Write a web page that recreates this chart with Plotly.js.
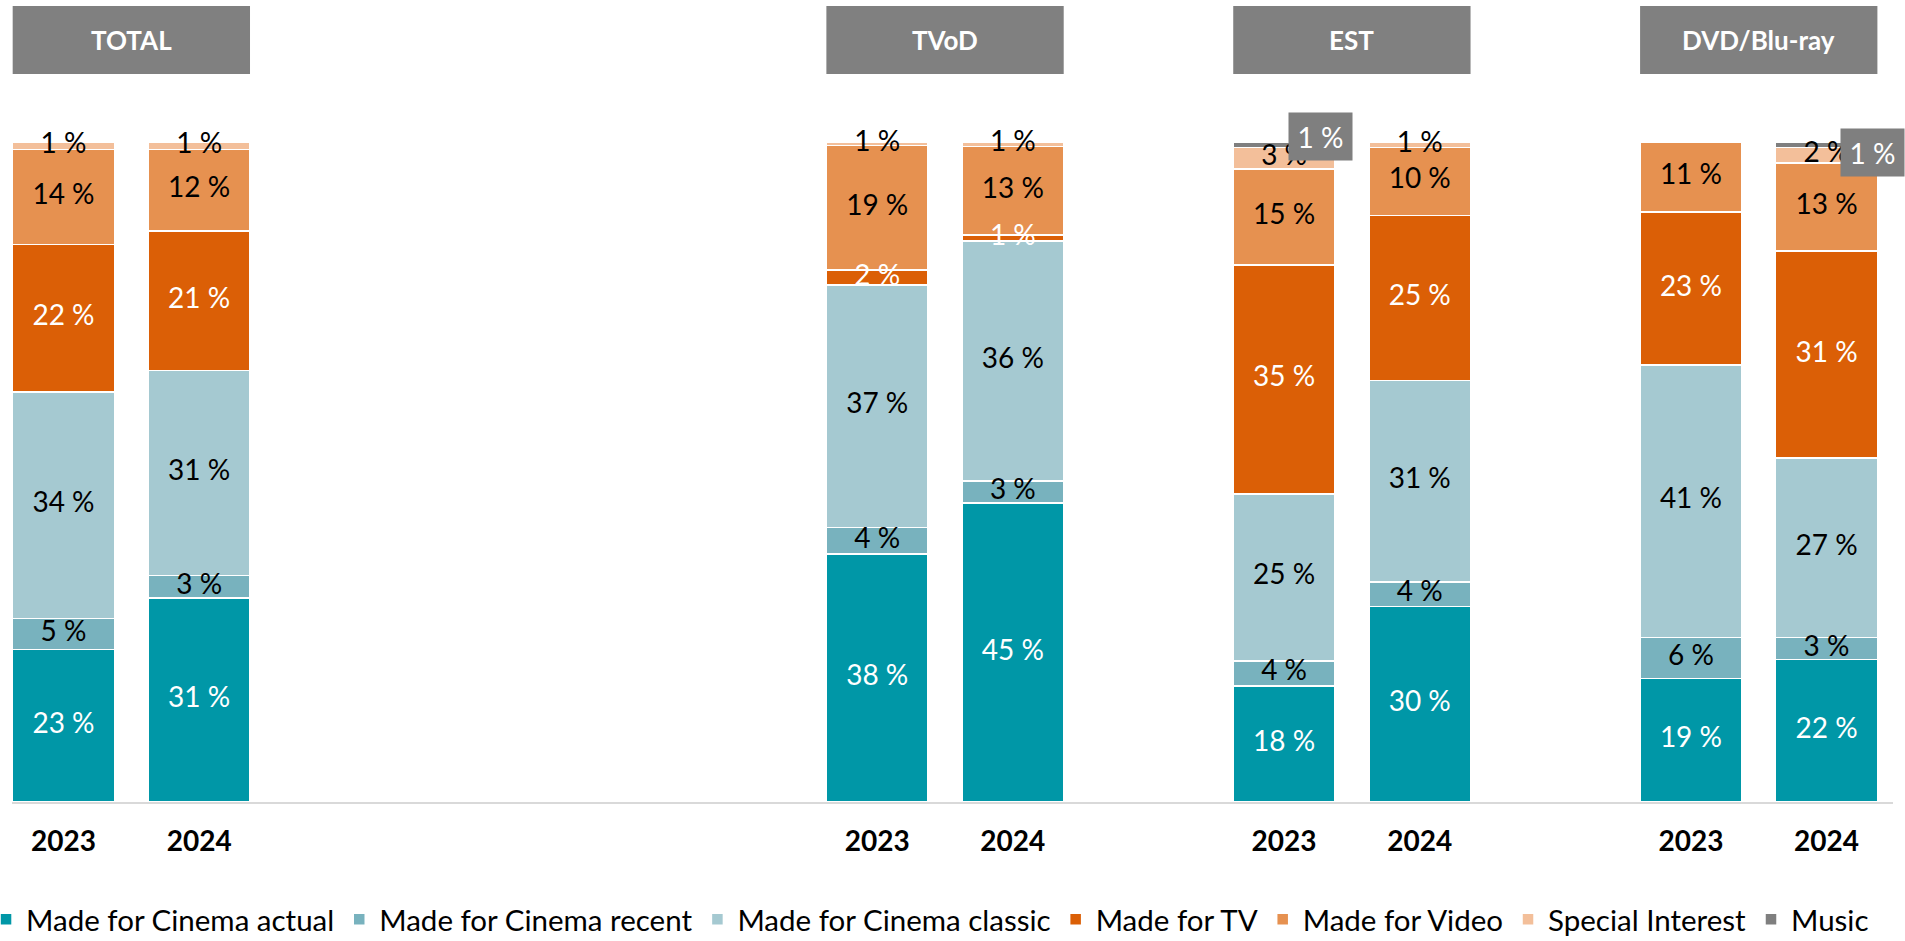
<!DOCTYPE html>
<html>
<head>
<meta charset="utf-8">
<script src="https://cdn.plot.ly/plotly-3.0.1.min.js"></script>
<style>html,body{margin:0;padding:0;background:#fff;}#chart{width:1905px;height:941px;}</style>
</head>
<body>
<div id="chart"></div>
<script>
// ---- data ----
const groups = ['TOTAL', 'TVoD', 'EST', 'DVD/Blu-ray'];
const years = ['2023', '2024'];
const seriesNames = ['Made for Cinema actual', 'Made for Cinema recent', 'Made for Cinema classic', 'Made for TV', 'Made for Video', 'Special Interest', 'Music'];
// order: TOTAL 2023, TOTAL 2024, TVoD 2023, TVoD 2024, EST 2023, EST 2024, DVD 2023, DVD 2024
const cinemaActual  = [23.1, 30.9, 37.6, 45.3, 17.6, 29.6, 18.7, 21.6];
const cinemaRecent  = [4.7, 3.4, 4.0, 3.3, 3.8, 3.7, 6.2, 3.3];
const cinemaClassic = [34.3, 31.1, 36.7, 36.4, 25.3, 30.6, 41.3, 27.2];
const madeForTV     = [22.4, 21.1, 2.3, 0.9, 34.7, 25.0, 23.2, 31.4];
const madeForVideo  = [14.4, 12.4, 18.9, 13.4, 14.5, 10.3, 10.6, 13.3];
const specialInt    = [1.1, 1.1, 0.5, 0.7, 3.3, 0.8, 0, 2.4];
const music         = [0, 0, 0, 0, 0.8, 0, 0, 0.8];

// ---- styling ----
const colors = ['#0097A7', '#78B2BE', '#A5C9D1', '#DB5F06', '#E69150', '#F3BF9A', '#7F7F7F'];
const textColors = ['#ffffff', '#000000', '#000000', '#ffffff', '#000000', '#000000', '#ffffff'];
const FONT = 'Lato, "Open Sans", sans-serif';

const cats = [];
groups.forEach(g => years.forEach(y => cats.push(g + ' ' + y)));
// category order with empty spacer slots between groups
const catOrder = [cats[0], cats[1], ' ', '  ', '   ', '    ', cats[2], cats[3], '     ', cats[4], cats[5], '      ', cats[6], cats[7]];

const allSeries = [cinemaActual, cinemaRecent, cinemaClassic, madeForTV, madeForVideo, specialInt, music];
const fmt = v => v > 0 ? Math.round(v) + ' %' : '';

const traces = allSeries.map((vals, i) => ({
  type: 'bar',
  name: seriesNames[i],
  x: cats,
  y: vals,
  marker: {color: colors[i], line: {color: '#ffffff', width: 1.5}},
  hoverinfo: 'skip'
}));

// value labels: centred in each stacked segment (computed from the data)
const base = cats.map(() => 0);
allSeries.forEach((vals, i) => {
  const mids = vals.map((v, k) => base[k] + v / 2);
  vals.forEach((v, k) => { base[k] += v; });
  if (i === 6) return; // music labels are drawn as boxed callouts below
  traces.push({
    type: 'scatter', mode: 'text', x: cats, y: mids,
    text: vals.map(fmt), textposition: 'middle center',
    textfont: {family: FONT, size: 28, color: textColors[i]},
    showlegend: false, hoverinfo: 'skip', cliponaxis: false
  });
});

// group header boxes
const shapes = [];
const annotations = [];
groups.forEach((g, gi) => {
  const i0 = catOrder.indexOf(cats[gi * 2]);
  const i1 = catOrder.indexOf(cats[gi * 2 + 1]);
  shapes.push({type: 'rect', xref: 'x', yref: 'paper', x0: i0 - 0.375, x1: i1 + 0.375, y0: 1.103, y1: 1.206,
    fillcolor: '#808080', line: {width: 0}, layer: 'above'});
  annotations.push({xref: 'x', yref: 'paper', x: (i0 + i1) / 2, y: 1.1545, text: '<b>' + g + '</b>',
    showarrow: false, font: {family: FONT, size: 26, color: '#ffffff'}, xanchor: 'center', yanchor: 'middle'});
});

// Music labels in gray boxes
music.forEach((v, i) => {
  if (v > 0) {
    annotations.push({xref: 'x', yref: 'y', x: catOrder.indexOf(cats[i]), y: base[i], text: fmt(v),
      showarrow: false, xshift: i === 7 ? 46 : 36, yshift: i === 7 ? -10 : 6,
      width: 47, height: 31, align: 'center', valign: 'middle',
      bgcolor: '#7F7F7F', borderpad: 8, font: {family: FONT, size: 28, color: '#ffffff'},
      xanchor: 'center', yanchor: 'middle'});
  }
});

const layout = {
  width: 1905, height: 941,
  margin: {l: 12, r: 12, t: 142, b: 139, autoexpand: false},
  paper_bgcolor: '#ffffff', plot_bgcolor: '#ffffff',
  barmode: 'stack',
  bargap: 0.25,
  font: {family: FONT, color: '#000000'},
  showlegend: true,
  legend: {orientation: 'h', x: -0.0138, xanchor: 'left', y: -0.178, yanchor: 'middle',
    font: {family: FONT, size: 29.5, color: '#000000'}, traceorder: 'normal', itemwidth: 30,
    bgcolor: 'rgba(0,0,0,0)'},
  xaxis: {type: 'category', categoryorder: 'array', categoryarray: catOrder, range: [-0.38, 13.49],
    showline: true, linecolor: '#D9D9D9', linewidth: 2, showgrid: false, zeroline: false,
    tickmode: 'array', tickvals: cats, ticktext: cats.map(c => c.slice(-4)),
    ticks: 'outside', ticklen: 13, tickcolor: 'rgba(0,0,0,0)',
    tickfont: {family: FONT, size: 28, color: '#000000', weight: 'bold'}, fixedrange: true},
  yaxis: {range: [0, 100], visible: false, showgrid: false, zeroline: false, fixedrange: true},
  shapes: shapes,
  annotations: annotations
};

Plotly.newPlot('chart', traces, layout, {displayModeBar: false, staticPlot: true});
</script>
</body>
</html>
